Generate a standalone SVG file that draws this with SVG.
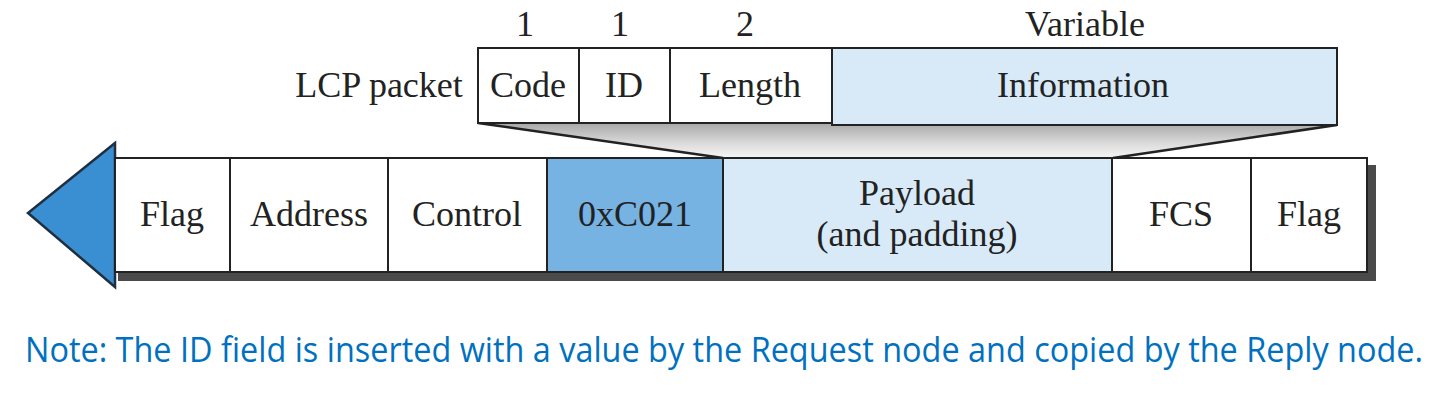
<svg xmlns="http://www.w3.org/2000/svg" width="1432" height="402" viewBox="0 0 1432 402">
<style>
.f{stroke:#222;stroke-width:2}
.w{fill:#fff}
.lb{fill:#d8eaf8}
.mb{fill:#76b2e2}
.t{font-family:"Liberation Serif","Times New Roman",serif;font-size:36px;fill:#222;text-anchor:middle}
.note{font-family:"Open Sans","Noto Sans",sans-serif;font-size:29.5px;fill:#0070C0}
</style>
<defs>
<linearGradient id="sh" x1="0" y1="0" x2="0" y2="1">
<stop offset="0" stop-color="#a8a8a8"/>
<stop offset="0.6" stop-color="#dcdcdc"/>
<stop offset="1" stop-color="#f6f6f6"/>
</linearGradient>
</defs>
<rect width="1432" height="402" fill="#fff"/>
<g id="connectors">
<polygon points="478,123 1337,125 1113,158 723,158" fill="url(#sh)"/>
<line x1="478" y1="123" x2="723" y2="158" stroke="#222" stroke-width="2.5"/>
<line x1="1337" y1="125" x2="1113" y2="158" stroke="#222" stroke-width="2.5"/>
</g>
<g id="shadow">
<rect x="118" y="266" width="1258" height="15" fill="#4a4a4a"/>
<rect x="1362" y="165" width="14" height="116" fill="#4a4a4a"/>
</g>
<g id="arrow">
<polygon points="115,143 28,213 115,287" fill="#3a8fd2" stroke="#1f2f40" stroke-width="2.5" stroke-linejoin="miter"/>
</g>
<g id="frame-flag1"><rect class="f w" x="115" y="158" width="115" height="114"/><text class="t" x="172" y="226">Flag</text></g>
<g id="frame-address"><rect class="f w" x="230" y="158" width="158" height="114"/><text class="t" x="309" y="226">Address</text></g>
<g id="frame-control"><rect class="f w" x="388" y="158" width="159" height="114"/><text class="t" x="467" y="226">Control</text></g>
<g id="frame-protocol"><rect class="f mb" x="547" y="158" width="176" height="114"/><text class="t" x="635" y="226">0xC021</text></g>
<g id="frame-payload"><rect class="f lb" x="723" y="158" width="389" height="114"/><text class="t" x="917" y="205">Payload</text><text class="t" x="917" y="246">(and padding)</text></g>
<g id="frame-fcs"><rect class="f w" x="1112" y="158" width="139" height="114"/><text class="t" x="1181" y="226">FCS</text></g>
<g id="frame-flag2"><rect class="f w" x="1251" y="158" width="116" height="114"/><text class="t" x="1309" y="226">Flag</text></g>
<g id="lcp-label"><text class="t" x="379" y="97">LCP packet</text></g>
<g id="lcp-code"><rect class="f w" x="478" y="48" width="101" height="75"/><text class="t" x="528" y="97">Code</text><text class="t" x="525" y="36">1</text></g>
<g id="lcp-id"><rect class="f w" x="579" y="48" width="91" height="75"/><text class="t" x="624" y="97">ID</text><text class="t" x="620" y="36">1</text></g>
<g id="lcp-length"><rect class="f w" x="670" y="48" width="162" height="75"/><text class="t" x="750" y="97">Length</text><text class="t" x="745" y="36">2</text></g>
<g id="lcp-information"><rect class="f lb" x="832" y="48" width="505" height="77"/><text class="t" x="1083" y="97">Information</text><text class="t" x="1085" y="36">Variable</text></g>
<g id="note" transform="translate(0,362) scale(1,1.15)"><text class="note" x="25" y="0" textLength="1398" lengthAdjust="spacingAndGlyphs">Note: The ID field is inserted with a value by the Request node and copied by the Reply node.</text></g>
</svg>
